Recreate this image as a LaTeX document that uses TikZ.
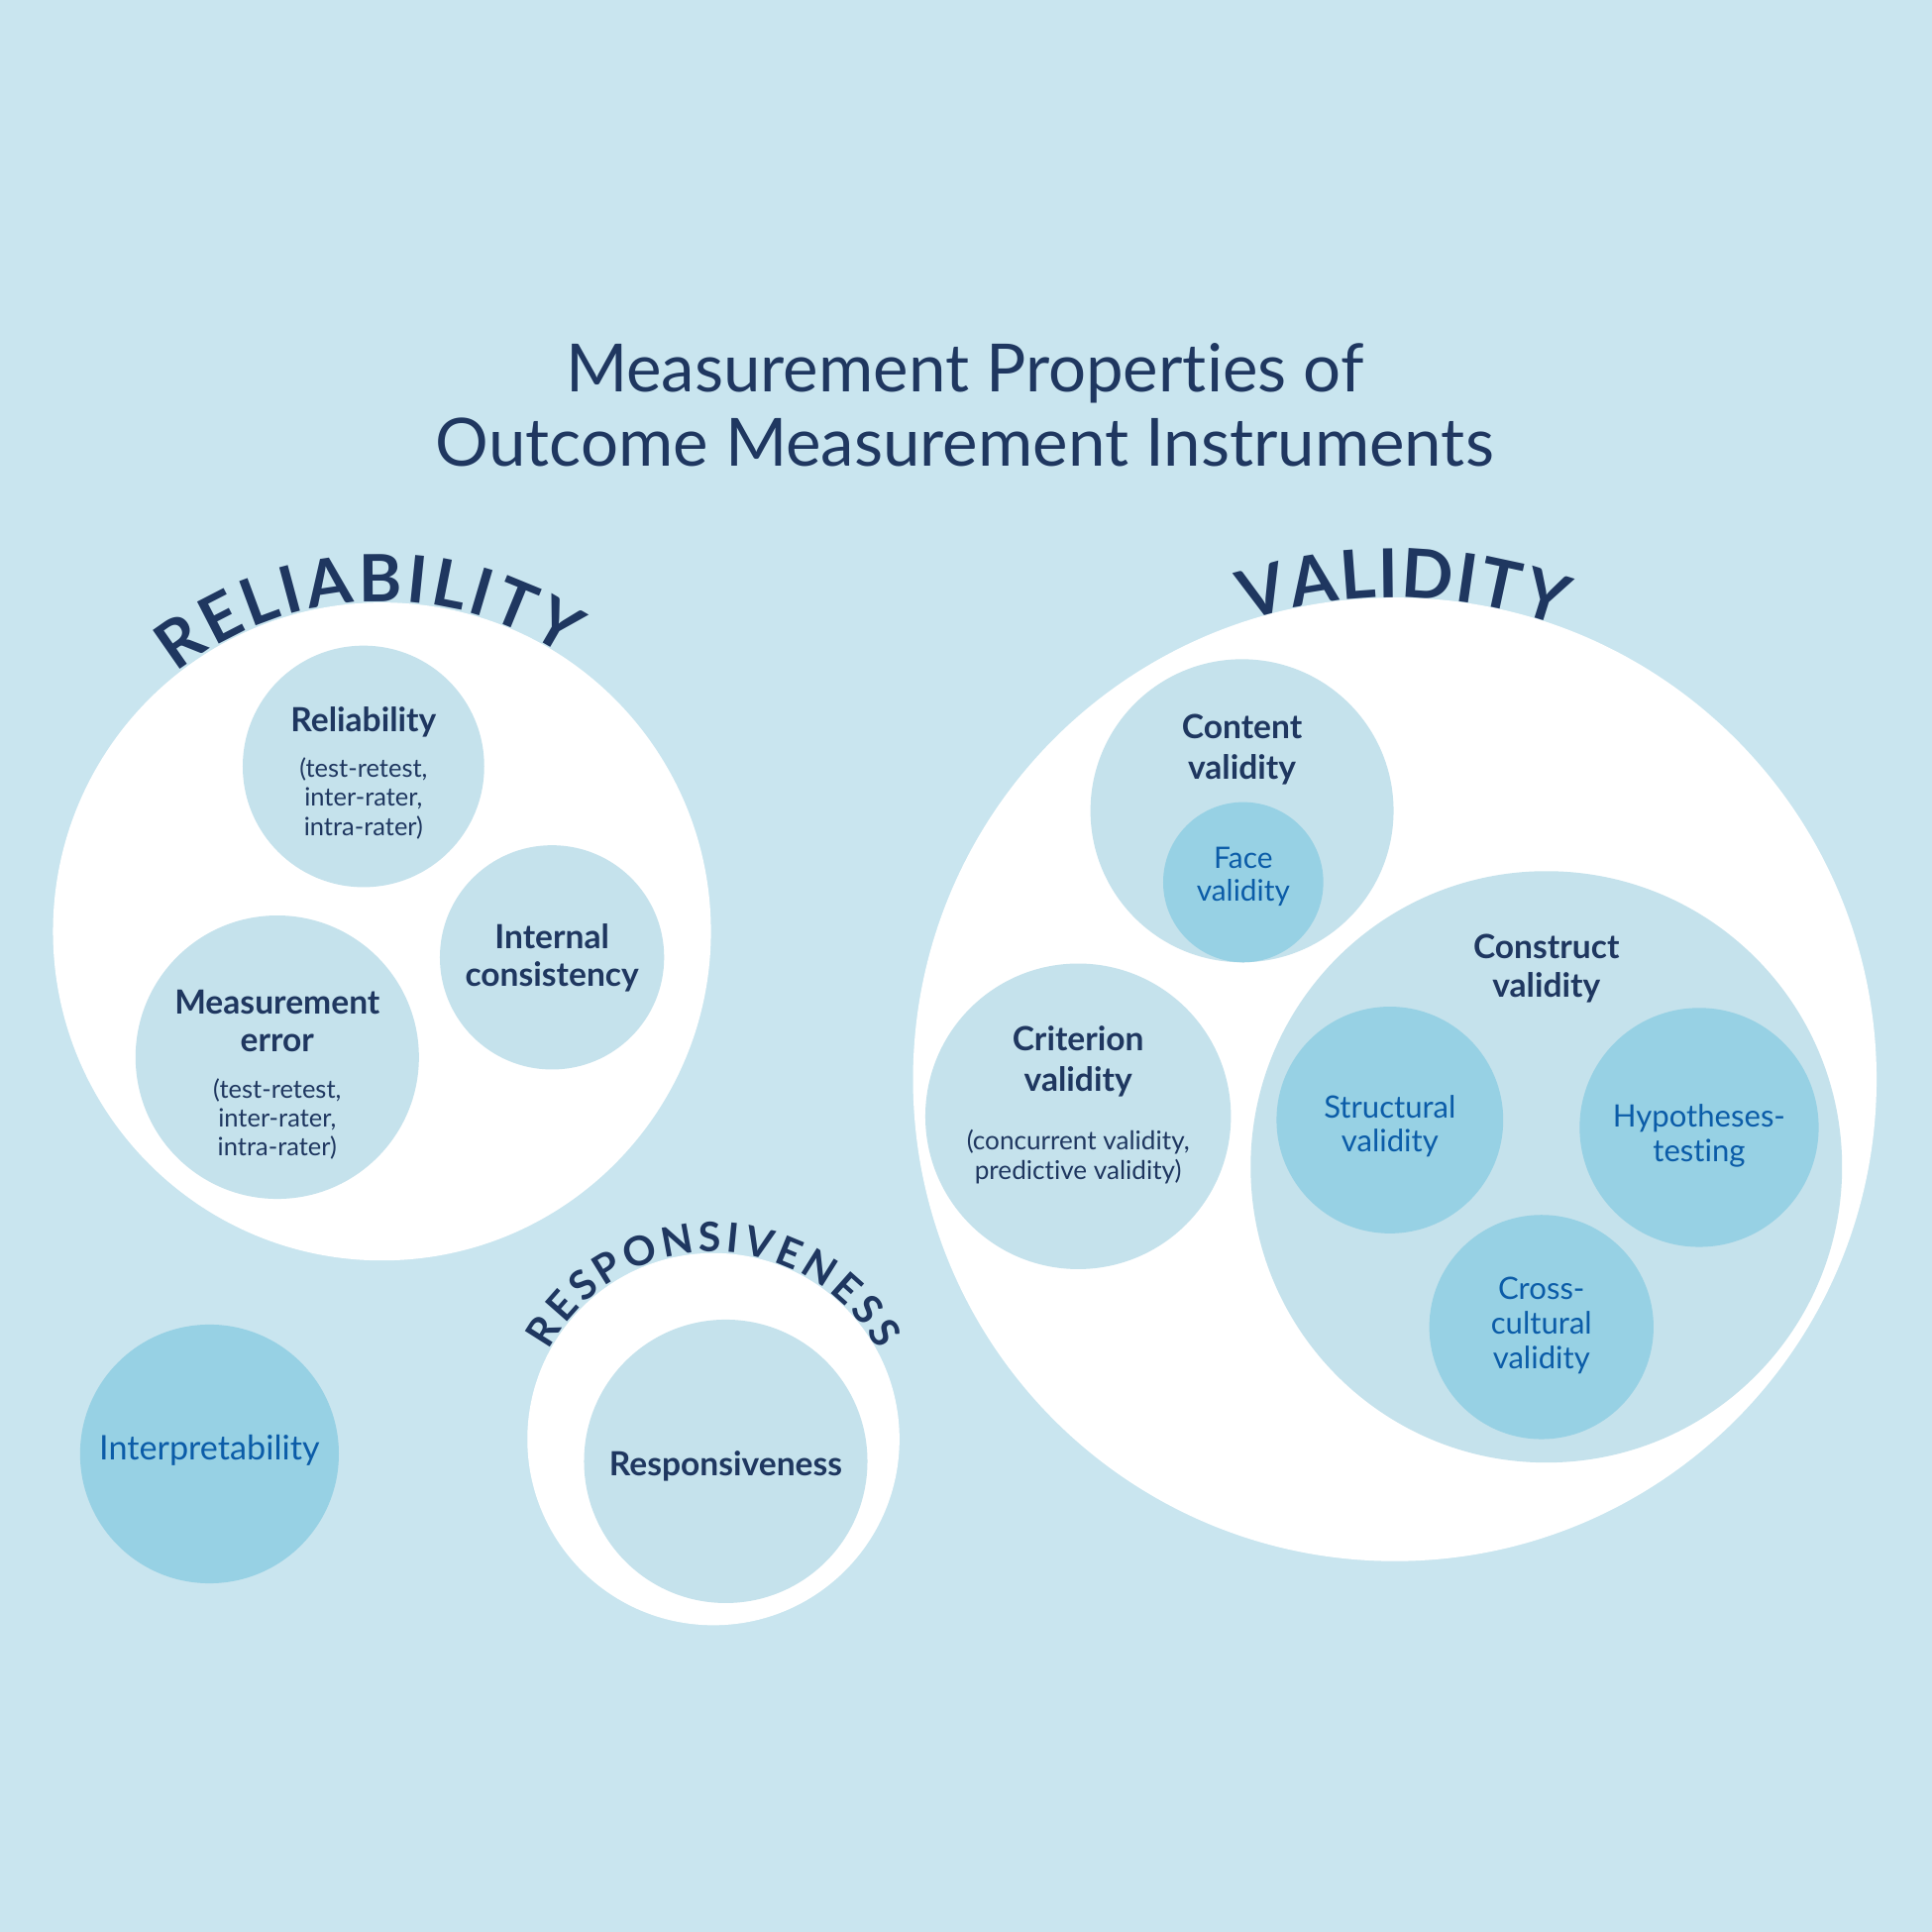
\documentclass[tikz,border=0pt]{standalone}
\usepackage{fontspec}
\setmainfont{Lato}[Ligatures={NoCommon,NoRare}]
\usetikzlibrary{decorations.text}
\definecolor{bg}{HTML}{C9E5EF}
\definecolor{lite}{HTML}{C5E2EC}
\definecolor{mid}{HTML}{97D1E4}
\definecolor{navy}{HTML}{1F3760}
\definecolor{bluet}{HTML}{0B5CA8}
\newcommand\arcfontA{\fontsize{53}{53}\selectfont\bfseries}
\newcommand\arcfontB{\fontsize{55}{55}\selectfont\bfseries}
\newcommand\arcfontC{\fontsize{33}{33}\selectfont\bfseries}
\begin{document}
\begin{tikzpicture}[x=1pt,y=-1pt,
  disc/.style={circle,inner sep=0pt,outer sep=0pt,minimum size=#1pt,draw=none},
  white disc/.style={disc=#1,fill=white},
  lite disc/.style={disc=#1,fill=lite},
  mid disc/.style={disc=#1,fill=mid},
  head/.style={inner sep=0pt,align=center,text=navy,font=\fontsize{27}{32}\selectfont\bfseries},
  sub/.style={inner sep=0pt,align=center,text=navy,font=\fontsize{20.5}{23.5}\selectfont},
  blue lbl/.style={inner sep=0pt,align=center,text=bluet,font=\fontsize{25}{28}\selectfont},
  title/.style={inner sep=0pt,anchor=base,text=navy,font=\fontsize{54}{60}\selectfont}]
\fill[bg] (0,0) rectangle (1568,1568);
\useasboundingbox (0,0) rectangle (1568,1568);

% title
\node[title] (t1) at (783,318) {Measurement Properties of};
\node[title] (t2) at (783,378) {Outcome Measurement Instruments};

% reliability group
\node[white disc=534] (relW) at (310,756) {};
\node[lite disc=196] (relC) at (295,622) {};
\node[lite disc=182] (intC) at (448,777) {};
\node[lite disc=230] (meC) at (225,858) {};
\node[head] (relT) at (295,586) {Reliability};
\node[sub] (relS) at (295,648) {(test-retest,\\inter-rater,\\intra-rater)};
\node[head,font=\fontsize{27}{31}\selectfont\bfseries] (intT) at (448,777.5) {Internal\\consistency};
\node[head,font=\fontsize{27}{31}\selectfont\bfseries] (meT) at (225,828.5) {Measurement\\error};
\node[sub] (meS) at (225,908) {(test-retest,\\inter-rater,\\intra-rater)};
\path[decorate,decoration={text along path,text={|\arcfontA|RELIABILITY},text align={fit to path},text color=navy}]
  (310,756) ++(231.5:268) arc[start angle=231.5,end angle=303.7,radius=268];

% interpretability
\node[mid disc=210] (intpC) at (170,1180) {};
\node[blue lbl,font=\fontsize{27.5}{30}\selectfont] (intpT) at (170,1177) {Interpretability};

% responsiveness
\node[white disc=302] (resW) at (579,1168) {};
\node[lite disc=230] (resC) at (589,1186) {};
\node[head] (resT) at (589,1190) {Responsiveness};
\path[decorate,decoration={text along path,text={|\arcfontC|RESPONSIVENESS},text align={fit to path},text color=navy}]
  (579,1168) ++(208.5:152) arc[start angle=208.5,end angle=331.5,radius=152];

% validity
\node[white disc=782] (valW) at (1132,876) {};
\node[lite disc=246] (conC) at (1008,658) {};
\node[mid disc=130] (faceC) at (1009,716) {};
\node[lite disc=248] (criC) at (875,906) {};
\node[lite disc=480] (cnsC) at (1255,947) {};
\node[mid disc=184] (strC) at (1128,909) {};
\node[mid disc=194] (hypC) at (1379,915) {};
\node[mid disc=182] (ccC) at (1251,1077) {};
\node[head,font=\fontsize{27}{33}\selectfont\bfseries] (conT) at (1008,608.5) {Content\\validity};
\node[blue lbl,font=\fontsize{24}{27}\selectfont] (faceT) at (1009,711.5) {Face\\validity};
\node[head,font=\fontsize{27}{33}\selectfont\bfseries] (criT) at (875,861.5) {Criterion\\validity};
\node[sub,font=\fontsize{21}{24}\selectfont] (criS) at (875,939) {(concurrent validity,\\predictive validity)};
\node[head] (cnsT) at (1255,786) {Construct\\validity};
\node[blue lbl] (strT) at (1128,914) {Structural\\validity};
\node[blue lbl] (hypT) at (1379,922) {Hypotheses-\\testing};
\node[blue lbl] (ccT) at (1251,1076) {Cross-\\cultural\\validity};
\path[decorate,decoration={text along path,text={|\arcfontB|VALIDITY},text align={fit to path},text color=navy}]
  (1132,876) ++(252:391) arc[start angle=252,end angle=290,radius=391];
\end{tikzpicture}
\end{document}
